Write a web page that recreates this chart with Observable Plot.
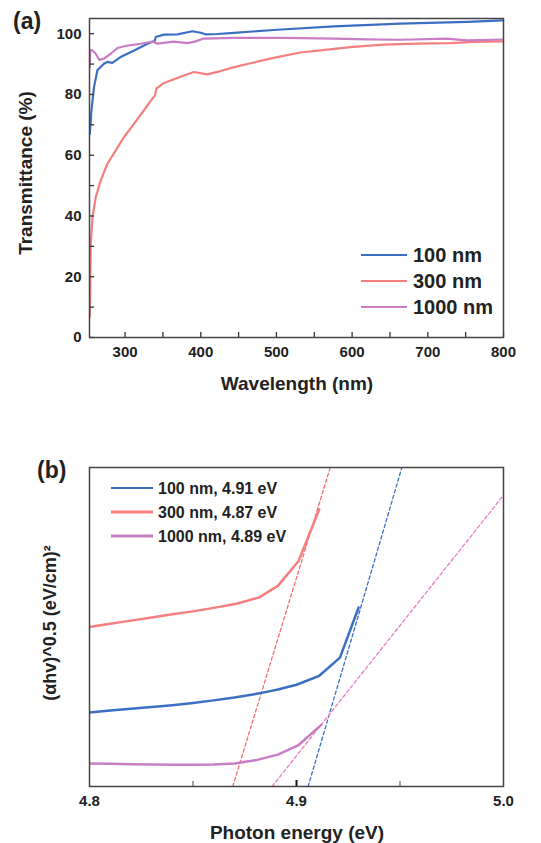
<!DOCTYPE html>
<html><head><meta charset="utf-8">
<script src="https://cdn.jsdelivr.net/npm/d3@7"></script>
<script src="https://cdn.jsdelivr.net/npm/@observablehq/plot@0.6"></script>
<style>
body{margin:0;background:#fff;}
#c{width:541px;}
#c svg{display:block;}
</style>
</head><body><div id="c"></div>
<script>
// ---------- shared ----------
const seriesNames = ["100 nm", "300 nm", "1000 nm"];
const seriesColors = ["#3b6fc4", "#f57f7f", "#c87dc5"];
const fitColors = ["#3b6fc4", "#f26d6d", "#e87cc4"];

// ---------- panel (a): transmittance ----------
const wl100 = [253.4,255.6,259,263.5,272,276.7,283,294,312,329.5,339,340.5,351.5,369,389,400,406,422,444,501,576,664,752,800];
const t100  = [67,74.8,82.5,88,90.1,90.7,90.4,92.3,94.5,96.7,97.6,98.9,99.7,99.8,100.8,100.3,99.8,99.9,100.3,101.3,102.4,103.3,103.9,104.4];
const wl300 = [253.4,254,254.7,257,261.3,268,276.7,287.7,298.7,312,325,336,339.6,341.3,351.5,364.6,375.6,391,408.6,426,444,470,501,531.7,558,597.7,641.7,685.7,729.6,760.4,800];
const t300  = [6.8,17.8,30.9,39.7,46.3,51.8,57.2,61.6,66.0,70.4,74.8,78.6,79.7,81.9,83.8,85.0,86.1,87.4,86.6,87.7,89.0,90.5,92.3,93.8,94.5,95.6,96.4,96.7,96.9,97.3,97.5];
const wl1000 = [253.4,254,257,261.3,265.7,272,281,290,303,320.7,336,342.6,364.6,382,391,404,444,510,576,620,664,725,752,800];
const t1000  = [89,94.7,94.5,93.4,91.4,91.8,93.4,95.3,96.1,96.7,97.4,96.7,97.4,96.9,97.3,98.4,98.6,98.6,98.4,98.1,98.0,98.4,97.8,98.1];
const xTicksA = [300,400,500,600,700,800];
const xMinorA = [350,450,550,650,750];
const yTicksA = [0,20,40,60,80,100];
const yMinorA = [10,30,50,70,90];

// ---------- panel (b): Tauc plot ----------
const e100 = [4.800,4.810,4.820,4.830,4.840,4.850,4.860,4.870,4.882,4.891,4.900,4.911,4.921,4.930];
const a100 = [23.2,23.8,24.4,24.9,25.5,26.2,27.0,27.9,29.2,30.4,31.9,34.7,40.4,56.1];
const e300 = [4.800,4.810,4.820,4.830,4.840,4.850,4.860,4.871,4.882,4.891,4.901,4.911];
const a300 = [50.0,51.0,52.0,53.0,54.0,54.9,56.0,57.3,59.3,62.9,70.7,86.9];
const e1000 = [4.800,4.810,4.820,4.830,4.840,4.850,4.860,4.870,4.880,4.891,4.901,4.912];
const a1000 = [7.2,7.1,7.0,6.9,6.8,6.8,6.9,7.2,8.2,10.0,13.0,19.3];
// linear fits (two end points each)
const fitE100 = [4.9056, 4.952], fitA100 = [0, 102.4];
const fitE300 = [4.8692, 4.9163], fitA300 = [0, 100];
const fitE1000 = [4.8882, 5.0], fitA1000 = [0, 91.3];
const gapLabels = ["100 nm, 4.91 eV", "300 nm, 4.87 eV", "1000 nm, 4.89 eV"];
const xTicksB = [4.8, 4.9, 5.0];
const xMinorB = [4.85, 4.95];

const FONT = "'Liberation Sans', Arial, Helvetica, sans-serif";
const TXT = "#222";

function toRows(xs, ys, s) { return xs.map((x, i) => ({x, y: ys[i], s})); }

const W = 541, ML = 89, MR = 38;
const FW = W - ML - MR;

// ===== Panel (a) =====
const HA = 400, MTA = 18, MBA = 63;
const FHA = HA - MTA - MBA;
const dataA = [
  ...toRows(wl100, t100, seriesNames[0]),
  ...toRows(wl300, t300, seriesNames[1]),
  ...toRows(wl1000, t1000, seriesNames[2])
];
const plotA = Plot.plot({
  width: W, height: HA,
  marginLeft: ML, marginRight: MR, marginTop: MTA, marginBottom: MBA,
  style: {fontFamily: FONT, fontWeight: "bold", color: TXT, background: "white"},
  x: {domain: [253, 800], axis: null},
  y: {domain: [0, 105], axis: null},
  color: {domain: seriesNames, range: seriesColors},
  marks: [
    Plot.line(dataA, {x: "x", y: "y", z: "s", stroke: "s", strokeWidth: 2.2, curve: "linear", clip: true}),
    Plot.ruleX([...xTicksA, ...xMinorA], {x: d => d, insetTop: FHA - 5, stroke: "#333", strokeWidth: 1.3}),
    Plot.ruleY([...yTicksA, ...yMinorA], {y: d => d, insetRight: FW - 5, stroke: "#333", strokeWidth: 1.3}),
    Plot.frame({stroke: "#444", strokeWidth: 1.5}),
    Plot.axisX({ticks: xTicksA, tickSize: 0, tickPadding: 9, fontSize: 15, fontWeight: "bold", label: null, fill: TXT}),
    Plot.axisY({ticks: yTicksA, tickSize: 0, tickPadding: 8, fontSize: 15, fontWeight: "bold", label: null, fill: TXT})
  ]
});

// ===== Panel (b) =====
const HB = 443, MTB = 67, MBB = 57;
const dataB = [
  ...toRows(e100, a100, seriesNames[0]),
  ...toRows(e300, a300, seriesNames[1]),
  ...toRows(e1000, a1000, seriesNames[2])
];
const fitB = [
  ...toRows(fitE100, fitA100, 0),
  ...toRows(fitE300, fitA300, 1),
  ...toRows(fitE1000, fitA1000, 2)
];
const FHB = HB - MTB - MBB;
const plotB = Plot.plot({
  width: W, height: HB,
  marginLeft: ML, marginRight: MR, marginTop: MTB, marginBottom: MBB,
  style: {fontFamily: FONT, fontWeight: "bold", color: TXT, background: "white"},
  x: {domain: [4.8, 5.0], axis: null},
  y: {domain: [0, 100], axis: null},
  marks: [
    Plot.line(fitB, {x: "x", y: "y", z: "s", stroke: d => fitColors[d.s], strokeWidth: 1.3, strokeDasharray: "3.5,2.5", clip: true}),
    Plot.line(dataB, {x: "x", y: "y", z: "s", stroke: d => seriesColors[seriesNames.indexOf(d.s)], strokeWidth: 2.5, clip: true}),
    Plot.ruleX(xMinorB, {x: d => d, insetTop: FHB - 5, stroke: "#666", strokeWidth: 1.2}),
    Plot.ruleX([4.9], {x: d => d, insetTop: FHB - 6, stroke: "#111", strokeWidth: 2}),
    Plot.frame({stroke: "#444", strokeWidth: 1.5}),
    Plot.axisX({ticks: xTicksB, tickSize: 0, tickPadding: 9, tickFormat: d3.format(".1f"), fontSize: 15, fontWeight: "bold", label: null, fill: TXT})
  ]
});

const c = document.getElementById("c");
c.appendChild(plotA);
c.appendChild(plotB);

function addText(svg, txt, x, y, fs, anchor, rotate) {
  const t = d3.select(svg).append("text")
    .attr("transform", `translate(${x},${y})` + (rotate ? ` rotate(${rotate})` : ""))
    .attr("text-anchor", anchor).attr("dy", "0.36em")
    .attr("font-family", FONT).attr("font-weight", "bold").attr("font-size", fs)
    .attr("fill", TXT).text(txt);
  return t;
}
// titles
addText(plotA, "(a)", 13, 21, 23, "start");
addText(plotA, "Wavelength (nm)", 297, 383, 19, "middle");
addText(plotA, "Transmittance (%)", 25, 173, 19, "middle", -90);
addText(plotB, "(b)", 37, 70, 23, "start");
addText(plotB, "Photon energy (eV)", 297, 432, 19, "middle");
addText(plotB, "(αhv)^0.5 (eV/cm)²", 50, 223, 18, "middle", -90);

// legends
function legend(svg, x1, x2, tx, ys, labels, widths, fs) {
  const g = d3.select(svg).append("g");
  labels.forEach((lab, i) => {
    g.append("line").attr("x1", x1).attr("x2", x2).attr("y1", ys[i]).attr("y2", ys[i])
      .attr("stroke", seriesColors[i]).attr("stroke-width", widths[i]);
    g.append("text").attr("x", tx).attr("y", ys[i]).attr("dy", "0.36em")
      .attr("text-anchor", "start")
      .attr("font-family", FONT).attr("font-weight", "bold").attr("font-size", fs)
      .attr("fill", TXT).text(lab);
  });
}
legend(plotA, 361, 407, 413, [255, 281, 307], seriesNames, [2, 2, 2], 20);
legend(plotB, 111, 153, 158, [88, 112, 136], gapLabels, [1.8, 2.8, 2.8], 16);
</script>
</body></html>
